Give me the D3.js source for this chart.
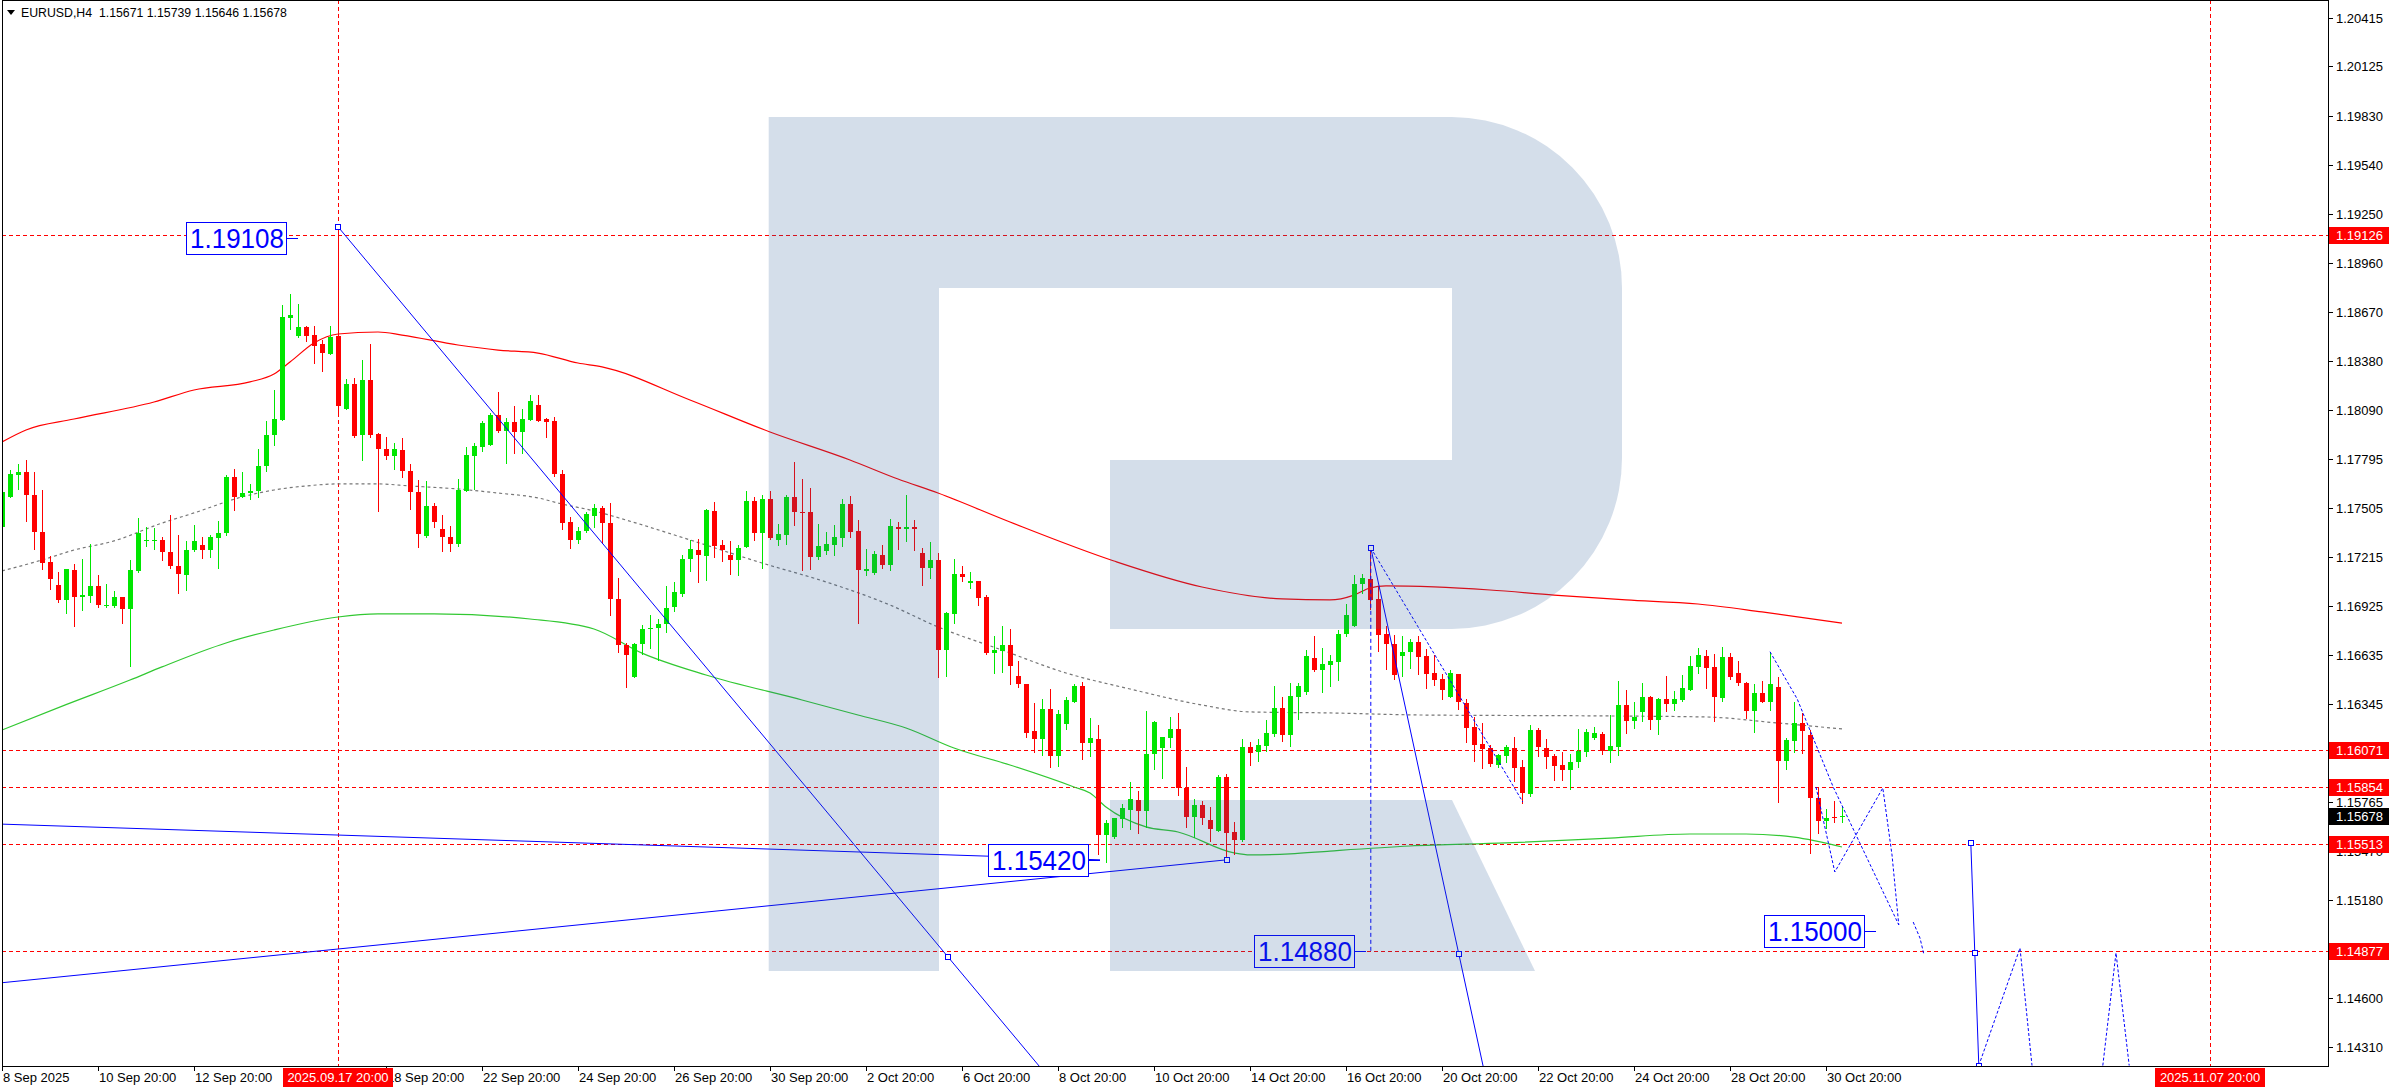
<!DOCTYPE html>
<html><head><meta charset="utf-8">
<script src="https://cdn.jsdelivr.net/npm/d3@7"></script>
<style>body{margin:0;background:#fff}svg{display:block}</style>
</head><body>
<script>
// ---------- DATA ----------
const symbolTitle = "EURUSD,H4  1.15671 1.15739 1.15646 1.15678";
// H4 candles [open, high, low, close], first bar = 8 Sep 20:00
const candles = [
[1.17392,1.17649,1.17342,1.17600],[1.17570,1.17732,1.17570,1.17705],[1.17701,1.17768,1.17619,1.17720],[1.17717,1.17792,1.17427,1.17582],
[1.17586,1.17717,1.17263,1.17362],[1.17362,1.17614,1.17144,1.17178],[1.17184,1.17223,1.17025,1.17085],[1.17051,1.17124,1.16946,1.16960],
[1.16960,1.17144,1.16881,1.17144],[1.17140,1.17174,1.16806,1.16976],[1.16976,1.17204,1.16901,1.16992],[1.16986,1.17293,1.16946,1.17045],
[1.17045,1.17109,1.16917,1.16932],[1.16923,1.17055,1.16921,1.16932],[1.16923,1.17016,1.16917,1.16980],[1.16980,1.16980,1.16822,1.16905],
[1.16905,1.17198,1.16570,1.17138],[1.17134,1.17447,1.17124,1.17356],[1.17313,1.17392,1.17283,1.17319],[1.17317,1.17388,1.17263,1.17319],
[1.17319,1.17336,1.17198,1.17243],[1.17247,1.17467,1.17150,1.17160],[1.17162,1.17348,1.17002,1.17113],[1.17107,1.17309,1.17020,1.17259],
[1.17257,1.17408,1.17253,1.17313],[1.17289,1.17332,1.17210,1.17257],[1.17257,1.17348,1.17214,1.17332],[1.17328,1.17431,1.17150,1.17360],
[1.17356,1.17701,1.17346,1.17689],[1.17689,1.17736,1.17495,1.17570],[1.17570,1.17717,1.17570,1.17598],[1.17594,1.17649,1.17560,1.17610],
[1.17606,1.17857,1.17570,1.17758],[1.17754,1.18025,1.17724,1.17942],[1.17938,1.18204,1.17877,1.18037],[1.18029,1.18708,1.18029,1.18639],
[1.18635,1.18774,1.18568,1.18649],[1.18526,1.18718,1.18520,1.18580],[1.18580,1.18588,1.18497,1.18526],[1.18532,1.18588,1.18366,1.18467],
[1.18481,1.18505,1.18318,1.18425],[1.18419,1.18588,1.18417,1.18522],[1.18526,1.19174,1.18065,1.18111],[1.18093,1.18273,1.18093,1.18243],
[1.18243,1.18279,1.17926,1.17936],[1.17940,1.18382,1.17788,1.18267],[1.18267,1.18477,1.17930,1.17942],[1.17946,1.17952,1.17487,1.17857],
[1.17857,1.17930,1.17798,1.17812],[1.17817,1.17893,1.17738,1.17857],[1.17851,1.17920,1.17689,1.17724],[1.17728,1.17768,1.17501,1.17600],
[1.17600,1.17673,1.17273,1.17352],[1.17340,1.17669,1.17336,1.17519],[1.17519,1.17534,1.17392,1.17421],[1.17382,1.17467,1.17249,1.17332],
[1.17336,1.17402,1.17249,1.17293],[1.17293,1.17679,1.17283,1.17614],[1.17610,1.17867,1.17610,1.17823],[1.17817,1.17893,1.17619,1.17873],
[1.17867,1.18021,1.17843,1.18010],[1.17877,1.18069,1.17877,1.18055],[1.18055,1.18194,1.17956,1.17962],[1.17962,1.18041,1.17772,1.18019],
[1.18019,1.18114,1.17831,1.17956],[1.17956,1.18095,1.17831,1.18035],[1.18029,1.18174,1.18029,1.18140],[1.18120,1.18174,1.18025,1.18025],
[1.18033,1.18041,1.17930,1.18015],[1.18021,1.18045,1.17699,1.17709],[1.17709,1.17732,1.17382,1.17416],[1.17421,1.17451,1.17267,1.17317],
[1.17317,1.17392,1.17297,1.17368],[1.17368,1.17481,1.17362,1.17471],[1.17461,1.17530,1.17392,1.17507],[1.17509,1.17517,1.17296,1.17418],
[1.17420,1.17533,1.16870,1.16967],[1.16969,1.17094,1.16652,1.16694],[1.16696,1.16708,1.16444,1.16632],[1.16504,1.16708,1.16504,1.16702],
[1.16700,1.16810,1.16642,1.16791],[1.16789,1.16870,1.16678,1.16797],[1.16793,1.16850,1.16603,1.16820],[1.16820,1.17042,1.16771,1.16915],
[1.16919,1.17066,1.16896,1.17010],[1.16997,1.17226,1.16983,1.17206],[1.17204,1.17319,1.17133,1.17266],[1.17260,1.17325,1.17068,1.17226],
[1.17222,1.17503,1.17078,1.17494],[1.17486,1.17541,1.17216,1.17280],[1.17284,1.17319,1.17193,1.17256],[1.17226,1.17311,1.17113,1.17197],
[1.17199,1.17284,1.17107,1.17272],[1.17274,1.17606,1.17274,1.17545],[1.17545,1.17573,1.17315,1.17359],[1.17359,1.17583,1.17151,1.17557],
[1.17557,1.17608,1.17325,1.17329],[1.17317,1.17414,1.17286,1.17355],[1.17345,1.17581,1.17292,1.17573],[1.17573,1.17779,1.17404,1.17484],
[1.17484,1.17676,1.17141,1.17478],[1.17480,1.17622,1.17145,1.17216],[1.17216,1.17410,1.17206,1.17280],[1.17250,1.17363,1.17236,1.17290],
[1.17286,1.17408,1.17226,1.17333],[1.17329,1.17557,1.17282,1.17529],[1.17529,1.17577,1.17335,1.17365],[1.17369,1.17434,1.16824,1.17137],
[1.17133,1.17262,1.17107,1.17147],[1.17119,1.17252,1.17117,1.17236],[1.17230,1.17286,1.17151,1.17167],[1.17167,1.17440,1.17137,1.17399],
[1.17395,1.17422,1.17262,1.17383],[1.17383,1.17583,1.17309,1.17393],[1.17395,1.17434,1.17256,1.17383],[1.17242,1.17268,1.17048,1.17151],
[1.17151,1.17304,1.17092,1.17195],[1.17195,1.17242,1.16504,1.16664],[1.16664,1.16888,1.16513,1.16882],[1.16878,1.17201,1.16824,1.17113],
[1.17113,1.17161,1.17072,1.17098],[1.17062,1.17129,1.17032,1.17076],[1.17076,1.17076,1.16931,1.16973],[1.16977,1.16989,1.16638,1.16644],
[1.16646,1.16749,1.16527,1.16662],[1.16656,1.16805,1.16533,1.16692],[1.16692,1.16787,1.16460,1.16567],[1.16508,1.16599,1.16444,1.16460],
[1.16460,1.16460,1.16147,1.16175],[1.16181,1.16349,1.16058,1.16136],[1.16134,1.16371,1.16044,1.16316],[1.16316,1.16434,1.15973,1.16038],
[1.16038,1.16310,1.15979,1.16282],[1.16223,1.16385,1.16195,1.16365],[1.16355,1.16464,1.16355,1.16448],[1.16448,1.16472,1.16017,1.16110],
[1.16110,1.16262,1.16038,1.16145],[1.16139,1.16221,1.15454,1.15565],[1.15565,1.15656,1.15405,1.15637],[1.15557,1.15668,1.15549,1.15668],
[1.15660,1.15751,1.15613,1.15728],[1.15718,1.15884,1.15601,1.15781],[1.15775,1.15827,1.15577,1.15708],[1.15708,1.16300,1.15613,1.16048],
[1.16046,1.16242,1.15957,1.16235],[1.16082,1.16151,1.15904,1.16149],[1.16143,1.16264,1.16088,1.16193],[1.16193,1.16288,1.15805,1.15844],
[1.15846,1.15973,1.15617,1.15672],[1.15672,1.15781,1.15557,1.15747],[1.15747,1.15771,1.15633,1.15666],[1.15656,1.15732,1.15534,1.15601],
[1.15593,1.15922,1.15593,1.15910],[1.15910,1.15926,1.15415,1.15577],[1.15583,1.15642,1.15454,1.15538],[1.15538,1.16137,1.15534,1.16088],
[1.16088,1.16118,1.15985,1.16052],[1.16058,1.16136,1.16005,1.16098],[1.16092,1.16250,1.16068,1.16175],[1.16167,1.16448,1.16157,1.16318],
[1.16318,1.16385,1.16124,1.16163],[1.16163,1.16468,1.16092,1.16393],[1.16385,1.16468,1.16258,1.16448],[1.16413,1.16662,1.16405,1.16627],
[1.16619,1.16745,1.16539,1.16547],[1.16543,1.16678,1.16415,1.16581],[1.16573,1.16632,1.16448,1.16597],[1.16591,1.16781,1.16484,1.16761],
[1.16757,1.16935,1.16749,1.16870],[1.16805,1.17108,1.16805,1.17058],[1.17054,1.17114,1.17003,1.17094],[1.17088,1.17270,1.16910,1.16959],
[1.16965,1.17038,1.16658,1.16751],[1.16757,1.16809,1.16551,1.16698],[1.16702,1.16751,1.16490,1.16516],[1.16627,1.16745,1.16512,1.16654],
[1.16654,1.16727,1.16555,1.16713],[1.16713,1.16747,1.16521,1.16624],[1.16628,1.16668,1.16436,1.16521],[1.16529,1.16634,1.16454,1.16486],
[1.16492,1.16521,1.16375,1.16426],[1.16387,1.16545,1.16383,1.16525],[1.16521,1.16521,1.16312,1.16353],[1.16347,1.16373,1.16119,1.16203],
[1.16207,1.16266,1.16007,1.16100],[1.16106,1.16232,1.15965,1.16078],[1.16082,1.16098,1.15977,1.15987],[1.15985,1.16050,1.15971,1.16040],
[1.16036,1.16100,1.16001,1.16090],[1.16084,1.16149,1.15888,1.15965],[1.15969,1.16011,1.15759,1.15819],[1.15813,1.16217,1.15801,1.16189],
[1.16189,1.16201,1.16034,1.16090],[1.16082,1.16137,1.15965,1.16030],[1.16036,1.16050,1.15892,1.15977],[1.15981,1.16060,1.15892,1.15951],
[1.15951,1.16050,1.15840,1.16001],[1.15999,1.16193,1.15971,1.16064],[1.16062,1.16197,1.16034,1.16177],[1.16143,1.16205,1.16139,1.16171],
[1.16169,1.16179,1.16048,1.16066],[1.16066,1.16278,1.16001,1.16094],[1.16090,1.16482,1.16044,1.16337],[1.16337,1.16426,1.16173,1.16244],
[1.16244,1.16355,1.16203,1.16268],[1.16298,1.16466,1.16244,1.16385],[1.16383,1.16389,1.16197,1.16252],[1.16252,1.16379,1.16169,1.16373],
[1.16373,1.16510,1.16304,1.16345],[1.16345,1.16420,1.16308,1.16373],[1.16369,1.16515,1.16363,1.16438],[1.16428,1.16628,1.16428,1.16569],
[1.16565,1.16676,1.16529,1.16634],[1.16628,1.16664,1.16440,1.16559],[1.16563,1.16638,1.16244,1.16387],[1.16381,1.16680,1.16363,1.16620],
[1.16620,1.16646,1.16490,1.16506],[1.16525,1.16599,1.16454,1.16466],[1.16468,1.16476,1.16262,1.16304],[1.16304,1.16462,1.16179,1.16407],
[1.16407,1.16480,1.16353,1.16357],[1.16357,1.16654,1.16308,1.16462],[1.16442,1.16502,1.15763,1.16007],[1.16007,1.16145,1.15959,1.16129],
[1.16125,1.16357,1.16060,1.16234],[1.16234,1.16288,1.16056,1.16185],[1.16159,1.16191,1.15460,1.15787],[1.15789,1.15852,1.15581,1.15650],
[1.15650,1.15720,1.15609,1.15666],[1.15672,1.15767,1.15644,1.15668],[1.15671,1.15739,1.15646,1.15678]
];
// moving averages [barIndex, price]
const maRed = [[0,1.17898],[3,1.17969],[9,1.18034],[19,1.18135],[24,1.18206],[31,1.18254],[34,1.18301],[36,1.18372],[39,1.18485],[42,1.18538],[47,1.18550],[50,1.18532],[57,1.18473],[62,1.18443],[67,1.18425],[72,1.18366],[75,1.18343],[86,1.18147],[96,1.17957],[106,1.17791],[112,1.17678],[117,1.17595],[126,1.17423],[139,1.17192],[150,1.17038],[160,1.16967],[166,1.16961],[169,1.16990],[171,1.17032],[173,1.17044],[179,1.17038],[186,1.17020],[194,1.16990],[203,1.16961],[212,1.16937],[220,1.16890],[230,1.16824]];
const maGray = [[0,1.17133],[5,1.17198],[9,1.17257],[14,1.17311],[20,1.17417],[24,1.17477],[30,1.17572],[34,1.17613],[38,1.17637],[42,1.17649],[47,1.17649],[51,1.17637],[57,1.17619],[62,1.17595],[67,1.17566],[70,1.17530],[74,1.17489],[78,1.17435],[86,1.17317],[95,1.17180],[103,1.17068],[111,1.16931],[117,1.16801],[125,1.16664],[133,1.16528],[141,1.16433],[150,1.16338],[156,1.16297],[166,1.16291],[177,1.16279],[201,1.16273],[213,1.16267],[222,1.16231],[230,1.16196]];
const maGreen = [[0,1.16190],[8,1.16340],[16,1.16486],[20,1.16564],[28,1.16706],[34,1.16783],[42,1.16860],[47,1.16878],[54,1.16878],[66,1.16848],[74,1.16789],[80,1.16646],[88,1.16516],[100,1.16368],[107,1.16279],[113,1.16202],[119,1.16083],[126,1.15982],[134,1.15852],[136,1.15816],[138,1.15733],[143,1.15615],[147,1.15585],[154,1.15461],[156,1.15449],[161,1.15455],[166,1.15472],[176,1.15502],[188,1.15520],[201,1.15549],[211,1.15573],[218,1.15573],[224,1.15555],[230,1.15496]];
// horizontal levels and vertical time markers
const levels = [1.19126, 1.16071, 1.15854, 1.15513, 1.14877];
const currentPrice = 1.15678;
const timeMarkers = [{i:42, label:"2025.09.17 20:00"}, {i:276, label:"2025.11.07 20:00"}];
// axis ticks (labels hidden behind the level tags are left out)
const priceTicks = [1.20415,1.20125,1.19830,1.19540,1.19250,1.18960,1.18670,1.18380,1.18090,1.17795,1.17505,1.17215,1.16925,1.16635,1.16345,1.15765,1.15470,1.15180,1.14600,1.14310];
const timeTickBars = [0,12,24,48,60,72,84,96,108,120,132,144,156,168,180,192,204,216,228];
const timeTickLabels = ["8 Sep 2025","10 Sep 20:00","12 Sep 20:00","18 Sep 20:00","22 Sep 20:00","24 Sep 20:00","26 Sep 20:00","30 Sep 20:00","2 Oct 20:00","6 Oct 20:00","8 Oct 20:00","10 Oct 20:00","14 Oct 20:00","16 Oct 20:00","20 Oct 20:00","22 Oct 20:00","24 Oct 20:00","28 Oct 20:00","30 Oct 20:00"];
// drawn analysis objects [barIndex, price]
const rayLines = [[[42,1.19174],[118.25,1.14844]], [[171.1,1.17270],[182.1,1.14862]]];
const solidLines = [[[-0.25,1.15632],[137.25,1.15420]], [[-0.25,1.14690],[153.1,1.15420]], [[246.1,1.15520],[246.6,1.14868],[247.1,1.14200]]];
const dottedLines = [
  [[171.1,1.17270],[190.1,1.15763]],
  [[221,1.16654],[224.4,1.16374],[228.9,1.15852],[237.1,1.15034]],
  [[226.75,1.15852],[229.1,1.15348],[235.1,1.15846],[236.25,1.15449],[237.1,1.15034]],
  [[238.9,1.15051],[239.75,1.14956],[240.25,1.14856]],
  [[247.1,1.14200],[249.75,1.14559],[252.25,1.14897],[253.75,1.14200]],
  [[262.6,1.14200],[264.25,1.14868],[265.9,1.14200]]
];
const dashedVertical = [[171.1,1.17270],[171.1,1.14880]];
const anchorPoints = [[42,1.19174],[118.25,1.14844],[153.1,1.15420],[171.1,1.17270],[182.1,1.14862],[246.1,1.15520],[246.6,1.14868],[247.1,1.14200]];
const priceNotes = [{text:"1.19108", i:37, p:1.19108},{text:"1.15420", i:137.25, p:1.15420},{text:"1.14880", i:170.5, p:1.14880},{text:"1.15000", i:234.25, p:1.15000}];

// ---------- DRAW ----------
const W = 2390, H = 1090;
const L = 2, R = 2328, B = 1066;
const svg = d3.select("body").append("svg").attr("width", W).attr("height", H)
  .style("font-family", "'Liberation Sans', Arial, sans-serif");
svg.append("rect").attr("width", W).attr("height", H).attr("fill", "#fff");

const x = d3.scaleLinear().domain([0, 276]).range([2, 2210]);
const y = d3.scaleLinear().domain([1.14310, 1.20415]).range([1047, 17.5]);
const py = p => Math.round(y(p)) + 0.5;

svg.append("defs").append("clipPath").attr("id", "clip")
  .append("rect").attr("x", L).attr("y", 0).attr("width", R - L).attr("height", B);
const g = svg.append("g").attr("clip-path", "url(#clip)");

// levels
g.selectAll(".lvl").data(levels).join("line")
  .attr("x1", L).attr("x2", R).attr("y1", d => py(d)).attr("y2", d => py(d))
  .attr("stroke", "#ff0000").attr("stroke-dasharray", "4,3");
g.selectAll(".vm").data(timeMarkers).join("line")
  .attr("x1", d => Math.round(x(d.i)) + 0.5).attr("x2", d => Math.round(x(d.i)) + 0.5)
  .attr("y1", 0).attr("y2", B)
  .attr("stroke", "#ff0000").attr("stroke-dasharray", "4,3");

// moving averages
const ln = d3.line().x(d => x(d[0])).y(d => y(d[1])).curve(d3.curveMonotoneX);
g.append("path").datum(maRed).attr("d", ln).attr("fill", "none").attr("stroke", "#ff0000").attr("stroke-width", 1.2);
g.append("path").datum(maGray).attr("d", ln).attr("fill", "none").attr("stroke", "#777").attr("stroke-width", 1.2).attr("stroke-dasharray", "3,3");
g.append("path").datum(maGreen).attr("d", ln).attr("fill", "none").attr("stroke", "#32c832").attr("stroke-width", 1.2);

// candles
const cg = g.append("g").attr("shape-rendering", "crispEdges");
const cs = cg.selectAll("g").data(candles).join("g");
const col = d => d[3] >= d[0] ? "#00e600" : "#ff0000";
cs.append("line")
  .attr("x1", (d, i) => Math.round(x(i)) + 0.5).attr("x2", (d, i) => Math.round(x(i)) + 0.5)
  .attr("y1", d => Math.round(y(d[1]))).attr("y2", d => Math.round(y(d[2])) + 1)
  .attr("stroke", col);
cs.append("rect")
  .attr("x", (d, i) => Math.round(x(i)) - 2).attr("width", 5)
  .attr("y", d => Math.round(y(Math.max(d[0], d[3]))))
  .attr("height", d => Math.max(1, Math.round(y(Math.min(d[0], d[3]))) - Math.round(y(Math.max(d[0], d[3])))))
  .attr("fill", col);

// analysis objects
const pl = d3.line().x(d => x(d[0])).y(d => y(d[1]));
rayLines.forEach(r => {
  const [a, b] = r;
  const far = [a[0] + (b[0] - a[0]) * 3, a[1] + (b[1] - a[1]) * 3];
  g.append("path").datum([a, b, far]).attr("d", pl).attr("fill", "none").attr("stroke", "#0000ff");
});
g.selectAll(".sl").data(solidLines).join("path").attr("d", pl).attr("fill", "none").attr("stroke", "#0000ff");
g.selectAll(".dl").data(dottedLines).join("path").attr("d", pl).attr("fill", "none")
  .attr("stroke", "#0000ff").attr("stroke-dasharray", "3,2");
g.append("path").datum(dashedVertical).attr("d", pl).attr("stroke", "#0000ff").attr("stroke-dasharray", "4,3");
g.selectAll(".ap").data(anchorPoints).join("rect")
  .attr("x", d => Math.round(x(d[0])) - 2.5).attr("y", d => Math.round(y(d[1])) - 2.5)
  .attr("width", 5).attr("height", 5).attr("fill", "#fff").attr("stroke", "#0000ff");

// price notes
const notes = g.selectAll(".note").data(priceNotes).join("g");
notes.append("line")
  .attr("x1", d => x(d.i) - 11).attr("x2", d => x(d.i))
  .attr("y1", d => py(d.p)).attr("y2", d => py(d.p)).attr("stroke", "#0000ff");
notes.append("rect")
  .attr("x", d => Math.round(x(d.i)) - 111.5).attr("y", d => Math.round(y(d.p)) - 15.5)
  .attr("width", 100).attr("height", 32).attr("fill", "#fff").attr("stroke", "#0000ff");
notes.append("text")
  .attr("x", d => Math.round(x(d.i)) - 108).attr("y", d => Math.round(y(d.p)) + 10)
  .attr("font-size", 27).attr("fill", "#0000ff")
  .attr("textLength", 94).attr("lengthAdjust", "spacingAndGlyphs")
  .text(d => d.text);

// watermark (semi-transparent logo overlay)
const wm = g.append("g").attr("fill", "rgb(40,90,150)").attr("fill-opacity", 0.2);
wm.append("path").attr("d",
  "M768.7,117 H1452 A171,171 0 0 1 1622,289 V457 A171,171 0 0 1 1452,629 H1110 V460 H1452 V288 H939 V971 H768.7 Z");
wm.append("path").attr("d", "M1110,800 H1452 L1535,971 H1110 Z");

// frame
svg.append("rect").attr("x", L + 0.5).attr("y", 0.5).attr("width", R - L).attr("height", B)
  .attr("fill", "none").attr("stroke", "#000");

// price axis
const ya = svg.append("g").attr("font-size", 13).attr("fill", "#000");
ya.selectAll("line").data(priceTicks).join("line")
  .attr("x1", R).attr("x2", R + 5).attr("y1", d => py(d)).attr("y2", d => py(d)).attr("stroke", "#000");
ya.selectAll("text").data(priceTicks).join("text")
  .attr("x", R + 8).attr("y", d => Math.round(y(d)) + 5).text(d => d.toFixed(5));
const tags = levels.map(p => ({p, c: "#ff0000"})).concat([{p: currentPrice, c: "#000"}]);
const tg = svg.selectAll(".tag").data(tags).join("g");
tg.append("rect").attr("x", R + 1).attr("width", 60).attr("y", d => Math.round(y(d.p)) - 8).attr("height", 17).attr("fill", d => d.c);
tg.append("text").attr("x", R + 8).attr("y", d => Math.round(y(d.p)) + 5).attr("font-size", 13).attr("fill", "#fff").text(d => d.p.toFixed(5));

// time axis
const xa = svg.append("g").attr("font-size", 13);
xa.selectAll("line").data(timeTickBars).join("line")
  .attr("x1", d => Math.round(x(d)) + 0.5).attr("x2", d => Math.round(x(d)) + 0.5)
  .attr("y1", B).attr("y2", B + 5).attr("stroke", "#000");
xa.selectAll("text").data(timeTickBars).join("text")
  .attr("x", d => Math.round(x(d)) + 1).attr("y", 1082).text((d, k) => timeTickLabels[k]);
const tm = svg.selectAll(".tm").data(timeMarkers).join("g");
tm.append("rect").attr("x", d => Math.round(x(d.i)) - 55).attr("y", 1068).attr("width", 110).attr("height", 19).attr("fill", "#ff0000");
tm.append("text").attr("x", d => Math.round(x(d.i))).attr("y", 1082).attr("text-anchor", "middle")
  .attr("font-size", 13).attr("fill", "#fff").text(d => d.label);

// header
svg.append("path").attr("d", "M7,10 L15,10 L11,15 Z").attr("fill", "#000");
svg.append("text").attr("x", 21).attr("y", 17).attr("font-size", 12.3).attr("fill", "#000")
  .attr("xml:space", "preserve").style("white-space", "pre").text(symbolTitle);
</script>
</body></html>
